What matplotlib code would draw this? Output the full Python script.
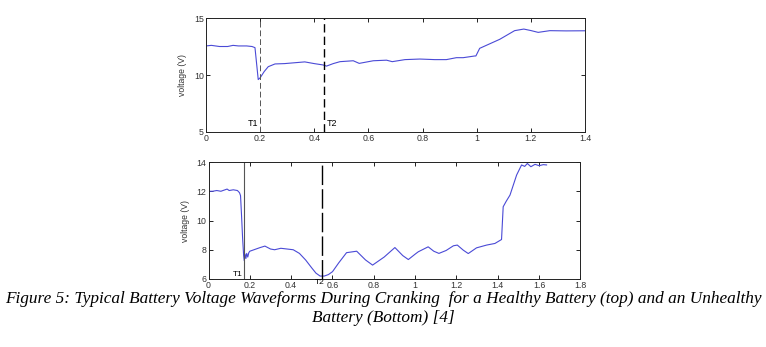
import matplotlib
matplotlib.use("Agg")
import matplotlib.pyplot as plt

# Healthy battery cranking waveform (top)
t_top = [0, 0.02, 0.05, 0.08, 0.1, 0.12, 0.15, 0.17, 0.181, 0.193, 0.2, 0.215, 0.23,
         0.255, 0.29, 0.33, 0.365, 0.4, 0.433, 0.445, 0.47, 0.495, 0.544, 0.566, 0.618,
         0.667, 0.688, 0.735, 0.79, 0.845, 0.888, 0.925, 0.95, 0.993, 0.997, 1.011,
         1.085, 1.14, 1.174, 1.2, 1.227, 1.27, 1.33, 1.4]
v_top = [12.55, 12.6, 12.5, 12.5, 12.6, 12.55, 12.55, 12.5, 12.4, 9.6, 9.75, 10.3, 10.73,
         10.97, 11.0, 11.08, 11.15, 11.0, 10.88, 10.78, 11.0, 11.17, 11.25, 11.02, 11.25,
         11.3, 11.17, 11.35, 11.4, 11.35, 11.35, 11.52, 11.52, 11.67, 11.67, 12.34,
         13.13, 13.89, 14.03, 13.9, 13.74, 13.89, 13.87, 13.88]

# Unhealthy battery cranking waveform (bottom)
t_bot = [0, 0.02, 0.04, 0.06, 0.08, 0.09, 0.1, 0.12, 0.14, 0.15, 0.155, 0.16, 0.165,
         0.17, 0.173, 0.177, 0.181, 0.185, 0.19, 0.195, 0.2, 0.22, 0.25, 0.273, 0.3,
         0.32, 0.35, 0.38, 0.41, 0.44, 0.47, 0.5, 0.52, 0.54, 0.56, 0.58, 0.6, 0.63,
         0.668, 0.717, 0.76, 0.794, 0.85, 0.902, 0.94, 0.967, 1.0, 1.015, 1.063, 1.09,
         1.115, 1.15, 1.185, 1.204, 1.233, 1.257, 1.297, 1.346, 1.386, 1.418, 1.426,
         1.44, 1.459, 1.491, 1.515, 1.53, 1.543, 1.56, 1.58, 1.6, 1.62, 1.636]
v_bot = [12.0, 12.0, 12.05, 12.0, 12.1, 12.15, 12.05, 12.1, 12.05, 11.9, 11.7, 10.3, 8.8,
         7.6, 7.25, 7.7, 7.4, 7.75, 7.5, 7.8, 7.9, 8.0, 8.15, 8.25, 8.05, 8.0, 8.1, 8.05,
         8.0, 7.75, 7.3, 6.75, 6.4, 6.2, 6.2, 6.3, 6.5, 7.1, 7.8, 7.9, 7.3, 6.95, 7.5,
         8.15, 7.6, 7.33, 7.7, 7.86, 8.2, 7.9, 7.75, 7.95, 8.27, 8.32, 7.97, 7.74, 8.13,
         8.32, 8.43, 8.7, 10.94, 11.3, 11.74, 13.11, 13.8, 13.7, 13.9, 13.68, 13.84,
         13.75, 13.82, 13.8]

top_xticks = [0, 0.2, 0.4, 0.6, 0.8, 1, 1.2, 1.4]
top_xlabels = ["0", "0.2", "0.4", "0.6", "0.8", "1", "1.2", "1.4"]
top_yticks = [5, 10, 15]
bot_xticks = [0, 0.2, 0.4, 0.6, 0.8, 1, 1.2, 1.4, 1.6, 1.8]
bot_xlabels = ["0", "0.2", "0.4", "0.6", "0.8", "1", "1.2", "1.4", "1.6", "1.8"]
bot_yticks = [6, 8, 10, 12, 14]

# Marker times for the start of cranking (T1) and the voltage trough (T2)
top_t1, top_t2 = 0.2, 0.435
bot_t1, bot_t2 = 0.173, 0.548

caption_1 = ("Figure 5: Typical Battery Voltage Waveforms During Cranking  for a "
             "Healthy Battery (top) and an Unhealthy")
caption_2 = "Battery (Bottom) [4]"

LINE = "#4a4ad6"
TXT = "#333333"
SANS = ["Liberation Sans", "DejaVu Sans"]

fig = plt.figure(figsize=(7.66, 3.47), dpi=100)
ax1 = fig.add_axes([0.2689, 0.6196, 0.4948, 0.3285])
ax2 = fig.add_axes([0.2722, 0.1960, 0.4856, 0.3371])


def style(ax, xt, xl, yt):
    ax.set_xticks(xt)
    ax.set_xticklabels(xl)
    ax.set_yticks(yt)
    ax.tick_params(direction="in", length=3, width=0.7, top=True, right=True,
                   labelsize=6.3, colors="#222222", labelcolor=TXT, pad=1.5)
    for lab in ax.get_xticklabels() + ax.get_yticklabels():
        lab.set_family(SANS)
    for s in ax.spines.values():
        s.set_linewidth(0.7)
        s.set_color("#222222")
    ax.set_ylabel("voltage (V)", fontsize=6.2, family=SANS, color=TXT, labelpad=5)


ax1.plot(t_top, v_top, color=LINE, lw=0.8)
ax1.set_xlim(0, 1.4)
ax1.set_ylim(5, 15)
style(ax1, top_xticks, top_xlabels, top_yticks)
ax1.axvline(top_t1, color="#555555", lw=0.7, ls=(0, (6, 3)))
ax1.axvline(top_t2, color="black", lw=1.0, ls=(0, (6, 3)))
ax1.text(top_t1 - 0.008, 5.35, "T1", fontsize=6.5, family=SANS, ha="right", va="bottom")
ax1.text(top_t2 + 0.01, 5.35, "T2", fontsize=6.5, family=SANS, ha="left", va="bottom")

ax2.plot(t_bot, v_bot, color=LINE, lw=0.8)
ax2.set_xlim(0, 1.8)
ax2.set_ylim(6, 14)
style(ax2, bot_xticks, bot_xlabels, bot_yticks)
ax2.axvline(bot_t1, color="#555555", lw=0.8)
ax2.axvline(bot_t2, color="black", lw=1.0, ls=(0, (14, 3)))
ax2.text(bot_t1 - 0.006, 6.1, "T1", fontsize=6, family=SANS, ha="right", va="bottom")
ax2.text(bot_t2 - 0.012, 5.75, "T2", fontsize=6, family=SANS, ha="center", va="center",
         clip_on=False)

serif = ["Liberation Serif", "DejaVu Serif"]
fig.text(0.5, 1 - 299 / 347, caption_1, ha="center", va="center", fontsize=12.4,
         family=serif, style="italic")
fig.text(0.5, 1 - 318 / 347, caption_2, ha="center", va="center", fontsize=12.4,
         family=serif, style="italic")

fig.savefig("out.png", dpi=100, facecolor="white")
